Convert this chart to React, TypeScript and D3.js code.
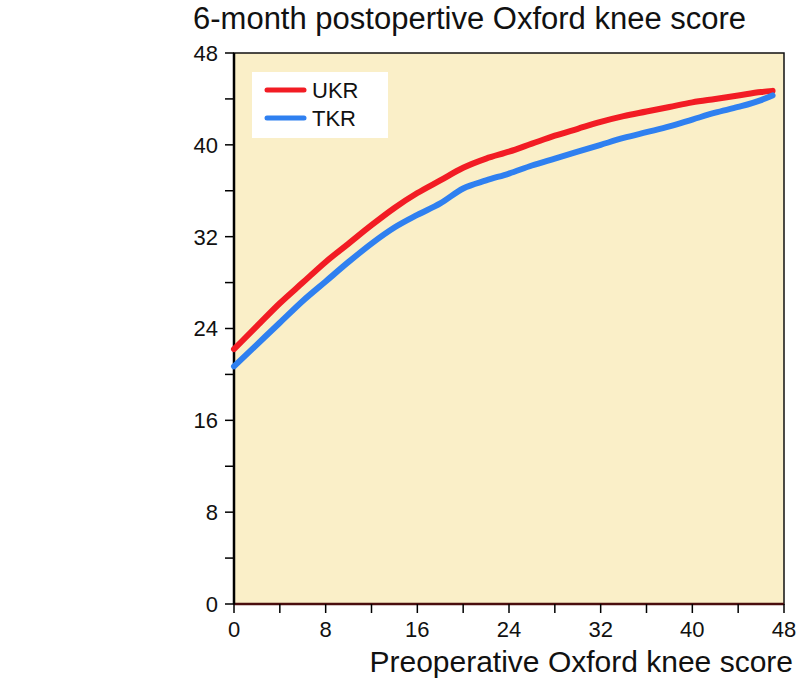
import { useEffect, useRef } from "react";
import * as d3 from "d3";

const preop = [0, 2, 4, 6, 8, 10, 12, 14, 16, 18, 20, 22, 24, 26, 28, 30, 32, 34, 36, 38, 40, 42, 44, 46, 47];
const ukr = [22.2, 24.2, 26.2, 28.0, 29.8, 31.4, 33.0, 34.5, 35.8, 36.9, 38.0, 38.8, 39.4, 40.1, 40.8, 41.4, 42.0, 42.5, 42.9, 43.3, 43.7, 44.0, 44.3, 44.6, 44.7];
const tkr = [20.7, 22.6, 24.5, 26.4, 28.1, 29.8, 31.4, 32.8, 33.9, 34.9, 36.2, 36.9, 37.5, 38.2, 38.8, 39.4, 40.0, 40.6, 41.1, 41.6, 42.2, 42.8, 43.3, 43.9, 44.3];
const tickLabels = [0, 8, 16, 24, 32, 40, 48];
const minorTicks = [0, 4, 8, 12, 16, 20, 24, 28, 32, 36, 40, 44, 48];
const seriesNames = ["UKR", "TKR"];
const seriesColors = ["#f21c24", "#2f80f0"];

const W = 796;
const H = 678;
const font = "'Liberation Sans', Arial, Helvetica, sans-serif";

function App() {
  const svgRef = useRef<SVGSVGElement | null>(null);

  useEffect(() => {
    if (!svgRef.current) return;
    const svg = d3.select(svgRef.current);
    svg.selectAll("*").remove();

    const x = d3.scaleLinear().domain([0, 48]).range([234, 784]);
    const y = d3.scaleLinear().domain([0, 48]).range([604, 53]);

    // plot background
    svg
      .append("rect")
      .attr("x", x(0))
      .attr("y", y(48))
      .attr("width", x(48) - x(0))
      .attr("height", y(0) - y(48))
      .attr("fill", "#faefc8")
      .attr("stroke", "#111")
      .attr("stroke-width", 1.5);

    // bottom axis line (dark red)
    svg
      .append("line")
      .attr("x1", x(0))
      .attr("x2", x(48))
      .attr("y1", y(0))
      .attr("y2", y(0))
      .attr("stroke", "#4a0d0d")
      .attr("stroke-width", 2.5);

    // left axis line
    svg
      .append("line")
      .attr("x1", x(0))
      .attr("x2", x(0))
      .attr("y1", y(48))
      .attr("y2", y(0))
      .attr("stroke", "#000")
      .attr("stroke-width", 2.5);

    // y ticks
    svg
      .append("g")
      .selectAll("line")
      .data(minorTicks)
      .enter()
      .append("line")
      .attr("x1", x(0) - 9)
      .attr("x2", x(0))
      .attr("y1", (d) => y(d))
      .attr("y2", (d) => y(d))
      .attr("stroke", "#000")
      .attr("stroke-width", 1.5);

    svg
      .append("g")
      .selectAll("text")
      .data(tickLabels)
      .enter()
      .append("text")
      .attr("x", 218)
      .attr("y", (d) => y(d))
      .attr("dy", "0.36em")
      .attr("text-anchor", "end")
      .attr("font-family", font)
      .attr("font-size", 22)
      .attr("fill", "#111")
      .text((d) => d);

    // x ticks
    svg
      .append("g")
      .selectAll("line")
      .data(minorTicks)
      .enter()
      .append("line")
      .attr("x1", (d) => x(d))
      .attr("x2", (d) => x(d))
      .attr("y1", y(0))
      .attr("y2", y(0) + 9)
      .attr("stroke", "#000")
      .attr("stroke-width", 1.5);

    svg
      .append("g")
      .selectAll("text")
      .data(tickLabels)
      .enter()
      .append("text")
      .attr("x", (d) => x(d))
      .attr("y", 637)
      .attr("text-anchor", "middle")
      .attr("font-family", font)
      .attr("font-size", 22)
      .attr("fill", "#111")
      .text((d) => d);

    // lines
    const data = [ukr, tkr];
    const line = d3
      .line<number>()
      .x((_, i) => x(preop[i]))
      .y((d) => y(d))
      .curve(d3.curveMonotoneX);

    data.forEach((vals, k) => {
      svg
        .append("path")
        .datum(vals)
        .attr("d", line)
        .attr("fill", "none")
        .attr("stroke", seriesColors[k])
        .attr("stroke-width", 6)
        .attr("stroke-linecap", "round")
        .attr("stroke-linejoin", "round");
    });

    // legend
    const lg = svg.append("g");
    lg.append("rect")
      .attr("x", 252)
      .attr("y", 72)
      .attr("width", 136)
      .attr("height", 66)
      .attr("fill", "#fff");
    seriesNames.forEach((name, i) => {
      const ly = 90 + i * 28;
      lg.append("line")
        .attr("x1", 267)
        .attr("x2", 304)
        .attr("y1", ly)
        .attr("y2", ly)
        .attr("stroke", seriesColors[i])
        .attr("stroke-width", 5)
        .attr("stroke-linecap", "round");
      lg.append("text")
        .attr("x", 312)
        .attr("y", ly)
        .attr("dy", "0.36em")
        .attr("font-family", font)
        .attr("font-size", 22)
        .attr("fill", "#111")
        .text(name);
    });

    // titles
    svg
      .append("text")
      .attr("x", 193)
      .attr("y", 29)
      .attr("font-family", font)
      .attr("font-size", 31)
      .attr("fill", "#111")
      .text("6-month postopertive Oxford knee score");

    svg
      .append("text")
      .attr("x", 793)
      .attr("y", 672)
      .attr("text-anchor", "end")
      .attr("font-family", font)
      .attr("font-size", 30)
      .attr("fill", "#111")
      .text("Preoperative Oxford knee score");
  }, []);

  return (
    <svg
      ref={svgRef}
      width={W}
      height={H}
      style={{ position: "absolute", left: 0, top: 0, background: "#fff" }}
    />
  );
}

export default App;
